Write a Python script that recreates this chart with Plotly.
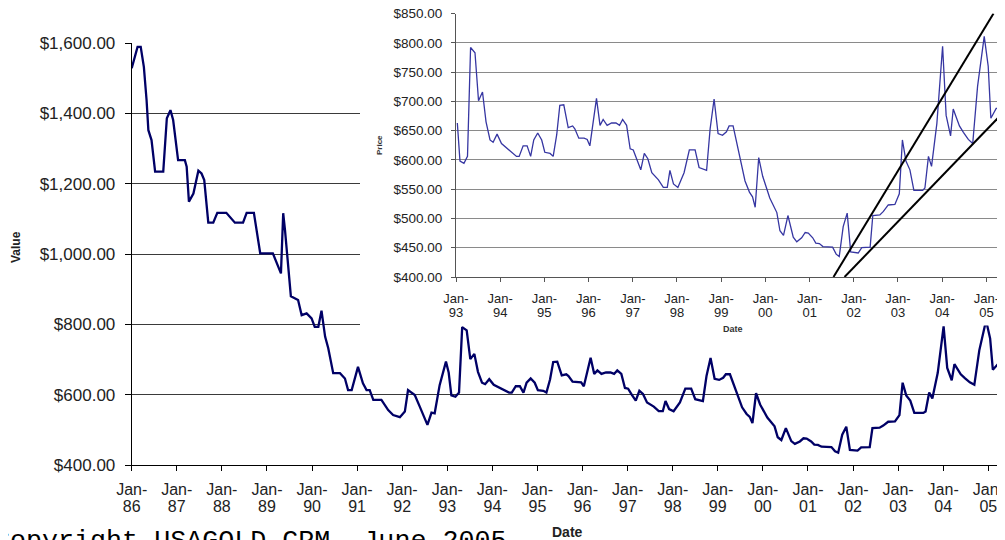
import plotly.graph_objects as go
from datetime import datetime

# ---- data (decimal year, price) ----
year = [
    1986.00, 1986.13, 1986.20, 1986.27, 1986.33, 1986.37, 1986.44, 1986.52, 1986.70, 1986.72,
    1986.78, 1986.86, 1986.92, 1987.03, 1987.18, 1987.22, 1987.27, 1987.37, 1987.48, 1987.55,
    1987.61, 1987.70, 1987.81, 1987.90, 1988.10, 1988.29, 1988.47, 1988.55, 1988.71, 1988.85,
    1989.13, 1989.31, 1989.36, 1989.40, 1989.53, 1989.69, 1989.77, 1989.88, 1989.99, 1990.06,
    1990.14, 1990.21, 1990.29, 1990.36, 1990.47, 1990.62, 1990.73, 1990.80, 1990.88, 1991.02,
    1991.13, 1991.21, 1991.28, 1991.36, 1991.54, 1991.69, 1991.80, 1991.95, 1992.06, 1992.13,
    1992.28, 1992.39, 1992.56, 1992.65, 1992.72, 1992.83, 1992.97,
    1993.03, 1993.09, 1993.18, 1993.26, 1993.33, 1993.43, 1993.51, 1993.60, 1993.68, 1993.77,
    1993.84, 1993.93, 1994.03, 1994.18, 1994.37, 1994.43, 1994.52, 1994.61, 1994.69, 1994.76,
    1994.85, 1994.94, 1995.01, 1995.13, 1995.20, 1995.28, 1995.35, 1995.44, 1995.54, 1995.64,
    1995.69, 1995.78, 1995.90, 1995.97, 1996.03, 1996.18, 1996.26, 1996.33, 1996.42, 1996.52,
    1996.62, 1996.70, 1996.77, 1996.86, 1996.94, 1997.01, 1997.09, 1997.18, 1997.26, 1997.34,
    1997.43, 1997.58, 1997.69, 1997.78, 1997.84, 1997.92, 1998.02, 1998.16, 1998.28, 1998.41,
    1998.50, 1998.67, 1998.75, 1998.84, 1998.93, 1999.03, 1999.12, 1999.18, 1999.27, 1999.39,
    1999.54, 1999.64, 1999.71, 1999.77, 1999.85, 1999.94, 2000.10, 2000.26, 2000.33, 2000.41,
    2000.51, 2000.63, 2000.71, 2000.82, 2000.90, 2000.97, 2001.07, 2001.14, 2001.22, 2001.30,
    2001.52, 2001.60, 2001.67, 2001.76, 2001.85, 2001.93, 2002.10, 2002.18, 2002.37, 2002.43,
    2002.59, 2002.67, 2002.78, 2002.93, 2003.03, 2003.10, 2003.18, 2003.27, 2003.36, 2003.56,
    2003.61, 2003.69, 2003.76, 2003.88, 2004.01, 2004.09, 2004.19, 2004.25, 2004.39, 2004.48,
    2004.59, 2004.69, 2004.80, 2004.95, 2005.04, 2005.10, 2005.22, 2005.34, 2005.42,
]
price = [
    1528, 1589, 1589, 1532, 1438, 1352, 1324, 1234, 1234, 1281,
    1386, 1409, 1381, 1267, 1267, 1248, 1149, 1172, 1237, 1229,
    1210, 1089, 1089, 1117, 1117, 1089, 1089, 1117, 1117, 1002,
    1002, 945, 1116, 1068, 880, 869, 826, 831, 817, 793,
    793, 839, 765, 732, 661, 661, 646, 613, 613, 679,
    632, 613, 613, 585, 585, 556, 542, 536, 552, 613,
    599, 566, 514, 549, 547, 627, 694,
    663, 598, 594, 606, 792, 783, 701, 716, 665, 634,
    630, 644, 628, 619, 606, 606, 624, 624, 606, 634,
    646, 634, 613, 611, 606, 643, 693, 694, 655, 658,
    653, 637, 637, 635, 624, 705, 659, 669, 659, 663,
    663, 659, 669, 659, 619, 617, 600, 583, 611, 602,
    578, 566, 553, 553, 582, 559, 553, 578, 617, 617,
    587, 582, 653, 704, 645, 642, 648, 658, 658, 614,
    564, 545, 537, 519, 604, 572, 535, 510, 479, 471,
    505, 468, 460, 467, 476, 475, 467, 458, 457, 452,
    451, 439, 435, 486, 509, 443, 441, 450, 451, 505,
    506, 512, 523, 524, 542, 634, 598, 583, 548, 548,
    552, 606, 589, 662, 794, 676, 641, 687, 658, 647,
    635, 628, 726, 811, 760, 671, 688, 687, 692,
]

inset_start_year = 1993.0

trend_upper_year = [2001.54, 2005.16]
trend_upper_price = [400, 850]
trend_lower_year = [2001.79, 2005.42]
trend_lower_price = [400, 684]

main_tick_years = [1986, 1987, 1988, 1989, 1990, 1991, 1992, 1993, 1994, 1995,
                   1996, 1997, 1998, 1999, 2000, 2001, 2002, 2003, 2004, 2005]
main_tick_labels = ["86", "87", "88", "89", "90", "91", "92", "93", "94", "95",
                    "96", "97", "98", "99", "00", "01", "02", "03", "04", "05"]
inset_tick_years = [1993, 1994, 1995, 1996, 1997, 1998, 1999, 2000, 2001, 2002,
                    2003, 2004, 2005]
inset_tick_labels = ["93", "94", "95", "96", "97", "98", "99", "00", "01", "02",
                     "03", "04", "05"]

main_y_ticks = [400, 600, 800, 1000, 1200, 1400, 1600]
inset_y_ticks = [400, 450, 500, 550, 600, 650, 700, 750, 800, 850]


def to_date(d):
    y = int(d)
    f = d - y
    a = datetime(y, 1, 1)
    b = datetime(y + 1, 1, 1)
    return (a + (b - a) * f).strftime("%Y-%m-%d %H:%M")


dates = [to_date(v) for v in year]
inset_dates = [to_date(v) for v, p in zip(year, price) if v >= inset_start_year]
inset_prices = [p for v, p in zip(year, price) if v >= inset_start_year]

W, H = 1005, 540
OFF = 8  # page body margin: figure starts 8px right/down of the window corner
FONT = "Liberation Sans, Arial, sans-serif"


def px_x(x):
    # window pixel -> paper fraction
    return (x - OFF) / W


def px_y(y):
    return 1 - (y - OFF) / H


def two_line(labels, size):
    return [f"<span style='font-size:{size}px'>Jan-</span><br>"
            f"<span style='font-size:{size}px'>{t}</span>" for t in labels]


fig = go.Figure()

# main series
fig.add_trace(go.Scatter(x=dates, y=price, mode="lines",
                         line=dict(color="#000066", width=2.3),
                         xaxis="x", yaxis="y", hoverinfo="skip"))
# white cover box for the inset (empty subplot)
fig.add_trace(go.Scatter(x=[None], y=[None], mode="lines",
                         xaxis="x2", yaxis="y2", hoverinfo="skip"))
# inset series
fig.add_trace(go.Scatter(x=inset_dates, y=inset_prices, mode="lines",
                         line=dict(color="#3636a2", width=1.3),
                         xaxis="x3", yaxis="y3", hoverinfo="skip"))
fig.add_trace(go.Scatter(x=[to_date(v) for v in trend_upper_year], y=trend_upper_price,
                         mode="lines", line=dict(color="#000000", width=2),
                         xaxis="x3", yaxis="y3", hoverinfo="skip"))
fig.add_trace(go.Scatter(x=[to_date(v) for v in trend_lower_year], y=trend_lower_price,
                         mode="lines", line=dict(color="#000000", width=2),
                         xaxis="x3", yaxis="y3", hoverinfo="skip"))

fig.update_layout(
    width=W, height=H,
    margin=dict(l=0, r=0, t=0, b=0, autoexpand=False),
    paper_bgcolor="white", plot_bgcolor="white",
    showlegend=False,
    font=dict(family=FONT, color="#222222"),
    xaxis=dict(
        domain=[px_x(131.7), px_x(1005)], anchor="y", type="date", automargin=False,
        range=[to_date(1986.0), to_date(2005.37)],
        tickvals=[to_date(v) for v in main_tick_years],
        ticktext=two_line(main_tick_labels, 16),
        tickfont=dict(size=13.3, color="#222222", family=FONT),
        ticks="outside", ticklen=5, tickcolor="#000000", ticklabelstandoff=8,
        ticklabeloverflow="allow",
        showline=True, linecolor="#000000", linewidth=1,
        showgrid=False, zeroline=False, tickangle=0,
    ),
    yaxis=dict(
        domain=[px_y(465), px_y(43)], anchor="x", automargin=False,
        range=[400, 1600], tickvals=main_y_ticks, tickformat="$,.2f",
        tickfont=dict(size=17, color="#222222", family=FONT),
        ticks="outside", ticklen=6, tickcolor="#000000", ticklabelstandoff=6,
        ticklabeloverflow="allow",
        showline=True, linecolor="#000000", linewidth=1,
        showgrid=True, gridcolor="#3a3a3a", gridwidth=1, zeroline=False,
    ),
    xaxis2=dict(domain=[px_x(360), 1.0], anchor="y2", visible=False, range=[0, 1],
                automargin=False),
    yaxis2=dict(domain=[px_y(325.5), 1.0], anchor="x2", visible=False, range=[0, 1],
                automargin=False),
    xaxis3=dict(
        domain=[px_x(456), px_x(1005)], anchor="y3", type="date", automargin=False,
        range=[to_date(1993.0), to_date(2005.42)],
        tickvals=[to_date(v) for v in inset_tick_years],
        ticktext=two_line(inset_tick_labels, 13),
        tickfont=dict(size=10.2, color="#222222", family=FONT),
        ticks="outside", ticklen=4, tickcolor="#555555", ticklabelstandoff=9,
        ticklabeloverflow="allow",
        showline=True, linecolor="#555555", linewidth=1,
        showgrid=False, zeroline=False, tickangle=0,
    ),
    yaxis3=dict(
        domain=[px_y(277), px_y(13.5)], anchor="x3", automargin=False,
        range=[400, 850], tickvals=inset_y_ticks, tickformat="$,.2f",
        tickfont=dict(size=13.5, color="#222222", family=FONT),
        ticks="outside", ticklen=4, tickcolor="#555555", ticklabelstandoff=6,
        ticklabeloverflow="allow",
        showline=True, linecolor="#555555", linewidth=1,
        showgrid=True, gridcolor="#8a8a8a", gridwidth=1, zeroline=False,
    ),
    annotations=[
        dict(text="<b>Value</b>", x=px_x(15.5), y=px_y(247.5), xref="paper", yref="paper",
             xanchor="center", yanchor="middle",
             textangle=-90, showarrow=False, font=dict(size=12, family=FONT, color="#222222")),
        dict(text="<b>Date</b>", x=px_x(567.5), y=px_y(531.7), xref="paper", yref="paper",
             xanchor="center", yanchor="middle",
             showarrow=False, font=dict(size=14, family=FONT, color="#222222")),
        dict(text="<b>Price</b>", x=px_x(379), y=px_y(145), xref="paper", yref="paper",
             xanchor="center", yanchor="middle",
             textangle=-90, showarrow=False, font=dict(size=8, family=FONT, color="#333333")),
        dict(text="<b>Date</b>", x=px_x(733), y=px_y(329.3), xref="paper", yref="paper",
             xanchor="center", yanchor="middle",
             showarrow=False, font=dict(size=9, family=FONT, color="#333333")),
        dict(text="Copyright USAGOLD-CPM, June 2005", x=px_x(-8), y=px_y(540.5),
             xref="paper", yref="paper",
             xanchor="left", yanchor="middle", showarrow=False,
             font=dict(size=26.7, family="Liberation Mono, Courier New, monospace",
                       color="#000000")),
    ],
)

fig.write_html("out.html")
